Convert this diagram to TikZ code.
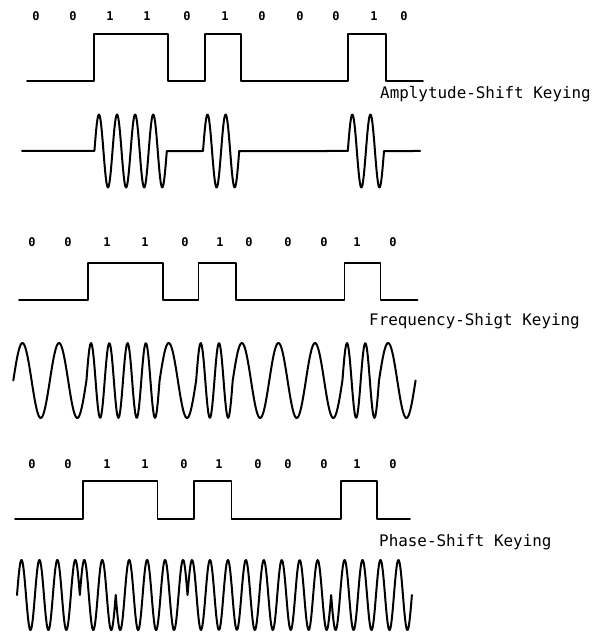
\documentclass[tikz,border=0pt]{standalone}
\usepackage{fontspec}
\usepackage{tikz}
\newfontfamily\keyfont{DejaVu Sans Mono}
\usetikzlibrary{positioning}

\begin{document}
\begin{tikzpicture}[x=1bp, y=-1bp, line join=round, line cap=round,
  bit/.style={font=\keyfont\bfseries\fontsize{12bp}{14bp}\selectfont, inner sep=0pt},
  keying/.style={font=\keyfont\fontsize{15.9bp}{18bp}\selectfont, anchor=base west, inner sep=0pt},
  level/.style={line width=1.6bp},
  carrier/.style={line width=2bp}]
  \useasboundingbox (0,0) rectangle (592,635);

  % amplitude-shift keying
  \foreach \xpos/\bit [count=\i] in {36/0,73/0,110/1,147/1,187/0,225/1,262/0,300/0,336/0,374/1,404/0}
    \node[bit] (askbit\i) at (\xpos,16) {\bit};
  \draw[level] (27,81) -- (94,81) -- (94,34) -- (168,34) -- (168,81) -- (205,81) -- (205,34)
    -- (241,34) -- (241,81) -- (348,81) -- (348,34) -- (386,34) -- (386,81) -- (423,81);
  \node[keying] (asklabel) at (380,99) {Amplytude-Shift Keying};
  \draw[carrier] (22,151) -- (94.4,151)
    -- plot[domain=94.4:166.8, samples=120] (\x,{151-36.5*sin(4*360/72.4*(\x-94.4))})
    -- (203,151)
    -- plot[domain=203:239.2, samples=60] (\x,{151-36.5*sin(2*360/36.2*(\x-203))})
    -- (347.8,151)
    -- plot[domain=347.8:384, samples=60] (\x,{151-36.5*sin(2*360/36.2*(\x-347.8))})
    -- (420.2,151);

  % frequency-shift keying
  \foreach \xpos/\bit [count=\i] in {32/0,68/0,107/1,145/1,185/0,220/1,249/0,288/0,324/0,357/1,393/0}
    \node[bit] (fskbit\i) at (\xpos,242) {\bit};
  \draw[level] (19,300) -- (88,300) -- (88,263) -- (163,263) -- (163,300) -- (198.5,300) -- (198.5,263)
    -- (236,263) -- (236,300) -- (344.6,300) -- (344.6,263) -- (380.6,263) -- (380.6,300) -- (417.5,300);
  \node[keying] (fsklabel) at (369,325) {Frequency-Shigt Keying};
  \draw[carrier] (13.3,380.5)
    \foreach \bit [count=\i from 0, evaluate=\i as \xa using 13.3+\i*36.57,
                   evaluate=\i as \xb using 13.3+(\i+1)*36.57] in {0,0,1,1,0,1,0,0,0,1,0} {
      -- plot[domain=\xa:\xb, samples=40] (\x,{380.5-37.5*sin((1+\bit)*360/36.57*(\x-\xa))})
    };

  % phase-shift keying
  \foreach \xpos/\bit [count=\i] in {32/0,68/0,107/1,145/1,184/0,219/1,258/0,288/0,324/0,357/1,393/0}
    \node[bit] (pskbit\i) at (\xpos,464) {\bit};
  \draw[level] (15,519) -- (83,519) -- (83,481) -- (157.5,481) -- (157.5,519) -- (194,519) -- (194,481)
    -- (231.5,481) -- (231.5,519) -- (341,519) -- (341,481) -- (377,481) -- (377,519) -- (410,519);
  \node[keying] (psklabel) at (379,546) {Phase-Shift Keying};
  \draw[carrier] (17,595)
    \foreach \ta/\tb/\sgn [evaluate=\ta as \xa using 17+\ta*35.9,
                           evaluate=\tb as \xb using 17+\tb*35.9] in {0/1.75/1,1.75/2.75/-1,2.75/4.75/1,4.75/8.75/-1,8.75/11/1} {
      -- plot[domain=\xa:\xb, samples=200] (\x,{595-35*\sgn*sin(720/35.9*(\x-17))})
    };
\end{tikzpicture}
\end{document}
